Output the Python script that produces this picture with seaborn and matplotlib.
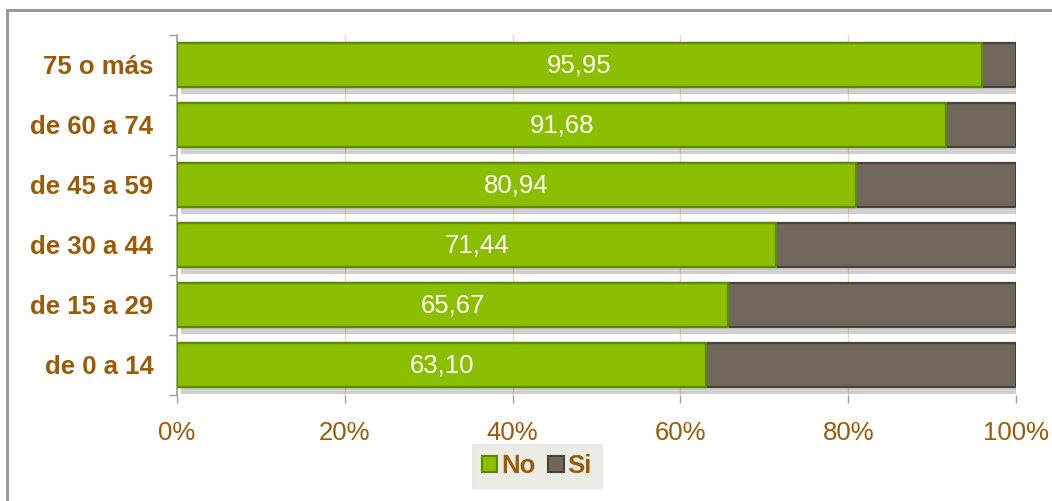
import matplotlib
matplotlib.use("Agg")
import matplotlib.pyplot as plt
import matplotlib.patheffects as pe
from matplotlib.patches import Patch, Rectangle
import seaborn as sns
import pandas as pd

categories = ["75 o más", "de 60 a 74", "de 45 a 59", "de 30 a 44", "de 15 a 29", "de 0 a 14"]
no_values = [95.95, 91.68, 80.94, 71.44, 65.67, 63.10]
si_values = [round(100 - v, 2) for v in no_values]
series_names = ["No", "Si"]
xticks = [0, 20, 40, 60, 80, 100]
xtick_labels = ["0%", "20%", "40%", "60%", "80%", "100%"]

GREEN = "#8CBE00"
GREEN_EDGE = "#5E8A00"
GRAY = "#6F675B"
GRAY_EDGE = "#48423A"
BROWN = "#9A5A06"

sns.set_theme(style="white")
plt.rcParams["font.family"] = ["Liberation Sans", "DejaVu Sans"]

df = pd.DataFrame({"cat": categories, "No": no_values, "Si": si_values})
df["total"] = df["No"] + df["Si"]

fig = plt.figure(figsize=(10.52, 5.01), dpi=100)
ax = fig.add_axes([177 / 1052, 1 - 395 / 501, (1016 - 177) / 1052, 360 / 501])

shadow = [pe.SimplePatchShadow(offset=(3, -5), shadow_rgbFace="#7a7a7a", alpha=0.35), pe.Normal()]

sns.barplot(data=df, x="total", y="cat", orient="h", color=GRAY, saturation=1,
            width=0.74, edgecolor=GRAY_EDGE, linewidth=1.6, ax=ax, zorder=3)
sns.barplot(data=df, x="No", y="cat", orient="h", color=GREEN, saturation=1,
            width=0.74, edgecolor=GREEN_EDGE, linewidth=1.6, ax=ax, zorder=4)

n = len(categories)
for i, p in enumerate(ax.patches):
    if i < n:
        p.set_path_effects(shadow)

for i, v in enumerate(no_values):
    ax.text(v / 2, i, f"{v:.2f}".replace(".", ","), ha="center", va="center",
            color="white", fontsize=18.5, zorder=6)

ax.set_xlim(0, 100)
ax.set_ylim(n - 0.5, -0.5)
ax.set_xticks(xticks)
ax.set_xticklabels(xtick_labels, color=BROWN, fontsize=18.5)
ax.set_yticks(range(n))
ax.set_yticklabels(categories, color=BROWN, fontsize=18.5, fontweight="bold")
ax.set_yticks([i - 0.5 for i in range(n + 1)], minor=True)
ax.tick_params(axis="y", which="major", length=0, pad=17)
ax.tick_params(axis="y", which="minor", length=6, width=1, color="#A0A0A0", direction="out", left=True)
ax.tick_params(axis="x", which="major", length=6, width=1, color="#A0A0A0", direction="out", bottom=True, pad=13)
ax.set_xlabel("")
ax.set_ylabel("")

ax.xaxis.grid(True, color="#FAD7A6", linewidth=1, zorder=0)
ax.yaxis.grid(False)
ax.set_axisbelow(True)
for s in ["top", "right", "bottom"]:
    ax.spines[s].set_visible(False)
ax.spines["left"].set_color("#A0A0A0")
ax.spines["left"].set_linewidth(1.2)

handles = [Patch(facecolor=GREEN, edgecolor=GREEN_EDGE, linewidth=1.5),
           Patch(facecolor=GRAY, edgecolor=GRAY_EDGE, linewidth=1.5)]
leg = fig.legend(handles, series_names, loc="center", bbox_to_anchor=(537 / 1052, 1 - 466 / 501),
                 ncol=2, frameon=True, fancybox=False, facecolor="#E8E8E0", edgecolor="#E8E8E0",
                 prop={"weight": "bold", "size": 18.5}, handlelength=0.6, handleheight=0.6,
                 handletextpad=0.15, columnspacing=0.5, borderpad=0.4, borderaxespad=0)
for t in leg.get_texts():
    t.set_color(BROWN)

fig.patches.append(Rectangle((7 / 1052, -0.1), 1.2, 1 - 10 / 501 + 0.1, transform=fig.transFigure,
                             fill=False, edgecolor="#9A9A9A", linewidth=2.2, zorder=0))

fig.savefig("out.png", dpi=100, facecolor="white")
